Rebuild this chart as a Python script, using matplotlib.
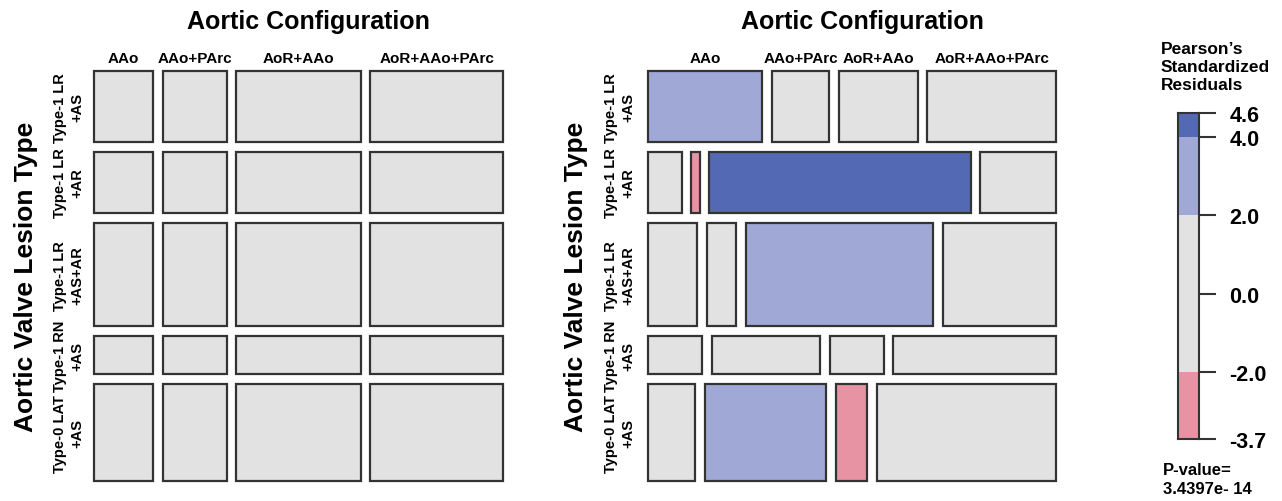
import numpy as np
import matplotlib
matplotlib.use("Agg")
import matplotlib.pyplot as plt
from matplotlib.patches import Rectangle

plt.rcParams['font.family'] = ['Liberation Sans', 'DejaVu Sans']
plt.rcParams['font.weight'] = 'bold'

# ---------------- data ----------------
configs = ["AAo", "AAo+PArc", "AoR+AAo", "AoR+AAo+PArc"]
lesions = ["Type-1 LR\n+AS", "Type-1 LR\n+AR", "Type-1 LR\n+AS+AR",
           "Type-1 RN\n+AS", "Type-0 LAT\n+AS"]
# counts per lesion type (rows above) for each aortic configuration
counts_aao = [16, 4, 10, 4, 9]
counts_aao_parc = [8, 1, 6, 8, 23]
counts_aor_aao = [11, 31, 38, 4, 6]
counts_aor_aao_parc = [18, 9, 23, 12, 34]
legend_ticks = [4.6, 4.0, 2.0, 0.0, -2.0, -3.7]
p_value_text = "P-value=\n3.4397e- 14"

# ---------------- computation ----------------
obs = np.array([counts_aao, counts_aao_parc, counts_aor_aao, counts_aor_aao_parc], float).T
N = obs.sum()
row_tot = obs.sum(axis=1)
col_tot = obs.sum(axis=0)
expected = np.outer(row_tot, col_tot) / N
resid = (obs - expected) / np.sqrt(expected)

GREY = "#e2e2e2"
LBLUE = "#a0a8d6"
DBLUE = "#5469b4"
PINK = "#e793a4"
DRED = "#d0566e"
EDGE = "#333333"


def shade(r):
    if r > 4:
        return DBLUE
    if r > 2:
        return LBLUE
    if r < -4:
        return DRED
    if r < -2:
        return PINK
    return GREY


W, H = 1282, 502
fig = plt.figure(figsize=(W / 100, H / 100), dpi=100)


def px_axes(x0, y0, x1, y1):
    return fig.add_axes([x0 / W, 1 - y1 / H, (x1 - x0) / W, (y1 - y0) / H])


def mosaic(ax, shaded, rowlab_off, ytitle_off):
    ax.set_xlim(0, 1)
    ax.set_ylim(1, 0)
    ax.axis('off')
    nr, nc = obs.shape
    gx, gy = 0.0235, 0.0245
    avail_y = 1 - gy * (nr - 1)
    avail_x = 1 - gx * (nc - 1)
    y = 0.0
    for i in range(nr):
        h = row_tot[i] / N * avail_y
        if shaded:
            props = obs[i] / row_tot[i]
        else:
            props = col_tot / N
        x = 0.0
        for j in range(nc):
            w = props[j] * avail_x
            fc = shade(resid[i, j]) if shaded else GREY
            ax.add_patch(Rectangle((x, y), w, h, facecolor=fc, edgecolor=EDGE,
                                   linewidth=1.6, clip_on=False))
            if i == 0:
                ax.text(x + w / 2, -9 / 410, configs[j], ha='center', va='baseline',
                        fontsize=11, fontweight='bold')
            x += w + gx
        ax.text(rowlab_off, y + h / 2, lesions[i], rotation=90, ha='center', va='center',
                fontsize=10.5, fontweight='bold', multialignment='center', linespacing=1.3)
        y += h + gy
    ax.text(0.5 + 10 / 409, -43 / 410, "Aortic Configuration", ha='center', va='baseline',
            fontsize=18, fontweight='bold')
    ax.text(ytitle_off, 0.5, "Aortic Valve Lesion Type", rotation=90, ha='center',
            va='center', fontsize=19, fontweight='bold')


ax1 = px_axes(94, 72, 503, 482)
mosaic(ax1, shaded=False, rowlab_off=-25 / 409, ytitle_off=-68 / 409)
ax2 = px_axes(648, 72, 1056, 482)
mosaic(ax2, shaded=True, rowlab_off=-28 / 408, ytitle_off=-72 / 408)

# ---------------- legend ----------------
axl = px_axes(1178, 114, 1199, 440)
lo, hi = min(legend_ticks), max(legend_ticks)
bounds = [lo, -2.0, 2.0, 4.0, hi]
cols = [PINK, GREY, LBLUE, DBLUE]
for b0, b1, c in zip(bounds[:-1], bounds[1:], cols):
    axl.bar(0.5, b1 - b0, bottom=b0, width=1.0, color=c, edgecolor='none')
axl.set_xlim(0, 1)
axl.set_ylim(lo, hi)
axl.set_xticks([])
axl.yaxis.tick_right()
axl.set_yticks(legend_ticks)
axl.set_yticklabels([f"{t:.1f}" for t in legend_ticks], fontsize=15.5, fontweight='bold')
axl.tick_params(axis='y', length=12, width=1.5, color=EDGE, pad=10)
for s in axl.spines.values():
    s.set_color(EDGE)
    s.set_linewidth(1.5)

fig.text(1161 / W, 1 - 42 / H, "Pearson\u2019s\nStandardized\nResiduals", ha='left', va='top',
         fontsize=12.5, fontweight='bold', linespacing=1.25)
fig.text(1163 / W, 1 - 463 / H, p_value_text, ha='left', va='top',
         fontsize=12, fontweight='bold', linespacing=1.3)

fig.savefig("out.png", dpi=100)
